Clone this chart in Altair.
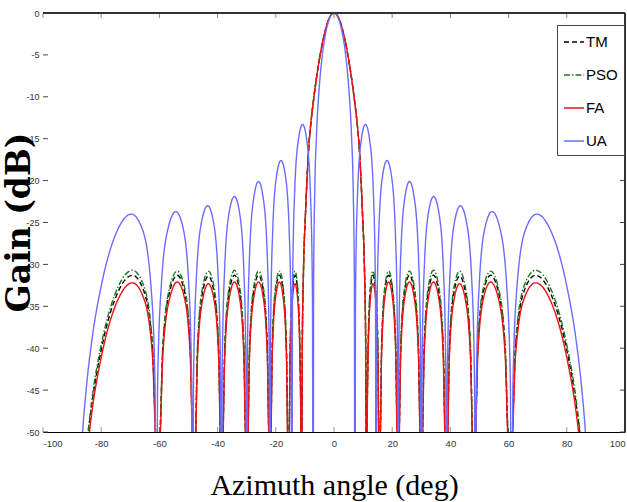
import altair as alt
import pandas as pd

# ---------------- data ----------------
series_names = ["TM", "PSO", "FA", "UA"]
series_colors = ["#000000", "#1a7a1a", "#f01010", "#6b6bff"]
series_dashes = [[5, 3], [6, 2, 1.5, 2], [1, 0], [1, 0]]
series_widths = [1.4, 1.4, 2.2, 0.9]

x_ticks = [-100, -80, -60, -40, -20, 0, 20, 40, 60, 80, 100]
y_ticks = [0, -5, -10, -15, -20, -25, -30, -35, -40, -45, -50]

# azimuth samples shared by the three optimised patterns (TM, PSO, FA)
opt_x = [
    -84.94, -82.84, -79.87, -73.96, -69.27, -65.41, -62.38, -60.96,
    -60.07, -58.81, -56.37, -53.84, -51.45, -49.42, -48.43,
    -47.79, -46.88, -45.09, -43.17, -41.30, -39.66, -38.87,
    -38.33, -37.52, -35.93, -34.19, -32.50, -30.99, -30.24,
    -29.75, -29.01, -27.54, -25.93, -24.34, -22.93, -22.24,
    -21.80, -21.22, -20.05, -18.77, -17.49, -16.36, -15.79,
    -15.47, -15.07, -14.27, -13.39, -12.51, -11.73, -11.33,
    -11.2, -10.9, -10.5, -9.8, -9.2, -8.5, -8.0, -7.0, -6.0, -5.0, -4.0, -3.0, -2.0, -1.0,
    0.0,
    1.0, 2.0, 3.0, 4.0, 5.0, 6.0, 7.0, 8.0, 8.5, 9.2, 9.8, 10.5, 10.9, 11.2,
    11.33, 11.73, 12.51, 13.39, 14.27, 15.07, 15.47,
    15.79, 16.36, 17.49, 18.77, 20.05, 21.22, 21.80,
    22.24, 22.93, 24.34, 25.93, 27.54, 29.01, 29.75,
    30.24, 30.99, 32.50, 34.19, 35.93, 37.52, 38.33,
    38.87, 39.66, 41.30, 43.17, 45.09, 46.88, 47.79,
    48.43, 49.42, 51.45, 53.84, 56.37, 58.81, 60.07,
    60.96, 62.38, 65.41, 69.27, 73.96, 79.87, 82.84, 84.94,
]

fa_y = [
    -52.7, -46.7, -40.9, -34.0, -32.2, -34.0, -40.9, -52.7,
    -52.6, -40.8, -33.9, -32.1, -33.9, -40.8, -52.6,
    -52.8, -41.0, -34.1, -32.3, -34.1, -41.0, -52.8,
    -52.6, -40.8, -33.9, -32.1, -33.9, -40.8, -52.6,
    -52.6, -40.8, -33.9, -32.1, -33.9, -40.8, -52.6,
    -52.6, -40.8, -33.9, -32.1, -33.9, -40.8, -52.6,
    -52.8, -41.0, -34.1, -32.3, -34.1, -41.0, -52.8,
    -80.0, -40.0, -31.0, -24.0, -19.3, -15.2, -13.3, -10.3, -7.7, -5.5, -3.6, -2.1, -0.93, -0.23,
    0.0,
    -0.23, -0.93, -2.1, -3.6, -5.5, -7.7, -10.3, -13.3, -15.2, -19.3, -24.0, -31.0, -40.0, -80.0,
    -52.8, -41.0, -34.1, -32.3, -34.1, -41.0, -52.8,
    -52.6, -40.8, -33.9, -32.1, -33.9, -40.8, -52.6,
    -52.6, -40.8, -33.9, -32.1, -33.9, -40.8, -52.6,
    -52.6, -40.8, -33.9, -32.1, -33.9, -40.8, -52.6,
    -52.8, -41.0, -34.1, -32.3, -34.1, -41.0, -52.8,
    -52.6, -40.8, -33.9, -32.1, -33.9, -40.8, -52.6,
    -52.7, -40.9, -34.0, -32.2, -34.0, -40.9, -46.7, -52.7,
]

tm_y = [
    -51.8, -45.8, -40.0, -33.1, -31.3, -33.1, -40.0, -51.8,
    -51.8, -40.0, -33.1, -31.3, -33.1, -40.0, -51.8,
    -51.9, -40.1, -33.2, -31.4, -33.2, -40.1, -51.9,
    -51.8, -40.0, -33.1, -31.3, -33.1, -40.0, -51.8,
    -51.8, -40.0, -33.1, -31.3, -33.1, -40.0, -51.8,
    -51.8, -40.0, -33.1, -31.3, -33.1, -40.0, -51.8,
    -51.8, -40.0, -33.1, -31.3, -33.1, -40.0, -51.8,
    -80.0, -40.0, -31.0, -24.0, -19.3, -15.2, -13.3, -10.3, -7.7, -5.5, -3.6, -2.1, -0.93, -0.23,
    0.0,
    -0.23, -0.93, -2.1, -3.6, -5.5, -7.7, -10.3, -13.3, -15.2, -19.3, -24.0, -31.0, -40.0, -80.0,
    -51.8, -40.0, -33.1, -31.3, -33.1, -40.0, -51.8,
    -51.8, -40.0, -33.1, -31.3, -33.1, -40.0, -51.8,
    -51.8, -40.0, -33.1, -31.3, -33.1, -40.0, -51.8,
    -51.8, -40.0, -33.1, -31.3, -33.1, -40.0, -51.8,
    -51.9, -40.1, -33.2, -31.4, -33.2, -40.1, -51.9,
    -51.8, -40.0, -33.1, -31.3, -33.1, -40.0, -51.8,
    -51.8, -40.0, -33.1, -31.3, -33.1, -40.0, -45.8, -51.8,
]

pso_y = [
    -51.2, -45.2, -39.4, -32.5, -30.7, -32.5, -39.4, -51.2,
    -51.3, -39.5, -32.6, -30.8, -32.6, -39.5, -51.3,
    -51.3, -39.5, -32.6, -30.8, -32.6, -39.5, -51.3,
    -51.2, -39.4, -32.5, -30.7, -32.5, -39.4, -51.2,
    -51.3, -39.5, -32.6, -30.8, -32.6, -39.5, -51.3,
    -51.3, -39.5, -32.6, -30.8, -32.6, -39.5, -51.3,
    -51.3, -39.5, -32.6, -30.8, -32.6, -39.5, -51.3,
    -80.0, -40.0, -31.0, -24.0, -19.3, -15.2, -13.3, -10.3, -7.7, -5.5, -3.6, -2.1, -0.93, -0.23,
    0.0,
    -0.23, -0.93, -2.1, -3.6, -5.5, -7.7, -10.3, -13.3, -15.2, -19.3, -24.0, -31.0, -40.0, -80.0,
    -51.3, -39.5, -32.6, -30.8, -32.6, -39.5, -51.3,
    -51.3, -39.5, -32.6, -30.8, -32.6, -39.5, -51.3,
    -51.3, -39.5, -32.6, -30.8, -32.6, -39.5, -51.3,
    -51.2, -39.4, -32.5, -30.7, -32.5, -39.4, -51.2,
    -51.3, -39.5, -32.6, -30.8, -32.6, -39.5, -51.3,
    -51.3, -39.5, -32.6, -30.8, -32.6, -39.5, -51.3,
    -51.2, -39.4, -32.5, -30.7, -32.5, -39.4, -45.2, -51.2,
]

ua_x = [
    -90.0, -86.49, -85.04, -82.98, -80.06, -74.26, -69.64, -65.86, -62.87, -61.49,
    -61.04, -60.61, -59.32, -56.88, -54.34, -51.96, -49.91, -48.92,
    -48.59, -48.27, -47.31, -45.44, -43.43, -41.49, -39.79, -38.96,
    -38.68, -38.41, -37.59, -35.98, -34.23, -32.52, -31.00, -30.25,
    -30.0, -29.75, -29.01, -27.55, -25.95, -24.36, -22.95, -22.26,
    -22.02, -21.79, -21.10, -19.73, -18.21, -16.71, -15.37, -14.70,
    -14.48, -14.26, -13.59, -12.27, -10.81, -9.35, -8.05, -7.40,
    -7.18, -7.0, -6.6, -6.0, -5.0, -4.0, -3.0, -2.0, -1.0,
    0.0,
    1.0, 2.0, 3.0, 4.0, 5.0, 6.0, 6.6, 7.0, 7.18,
    7.40, 8.05, 9.35, 10.81, 12.27, 13.59, 14.26, 14.48,
    14.70, 15.37, 16.71, 18.21, 19.73, 21.10, 21.79, 22.02,
    22.26, 22.95, 24.36, 25.95, 27.55, 29.01, 29.75, 30.0,
    30.25, 31.00, 32.52, 34.23, 35.98, 37.59, 38.41, 38.68,
    38.96, 39.79, 41.49, 43.43, 45.44, 47.31, 48.27, 48.59,
    48.92, 49.91, 51.96, 54.34, 56.88, 59.32, 60.61, 61.04,
    61.49, 62.87, 65.86, 69.64, 74.26, 80.06, 82.98, 85.04, 86.49, 90.0,
]

ua_y = [
    -80.0, -50.5, -44.5, -38.5, -32.7, -25.8, -24.0, -25.8, -32.7, -44.5,
    -80.0, -44.2, -32.4, -25.5, -23.7, -25.5, -32.4, -44.2,
    -80.0, -43.5, -31.7, -24.8, -23.0, -24.8, -31.7, -43.5,
    -80.0, -42.4, -30.6, -23.7, -21.9, -23.7, -30.6, -42.4,
    -80.0, -40.6, -28.8, -22.0, -20.1, -22.0, -28.8, -40.6,
    -80.0, -38.1, -26.3, -19.4, -17.6, -19.4, -26.3, -38.1,
    -80.0, -33.8, -22.0, -15.2, -13.3, -15.2, -22.0, -33.8,
    -80.0, -31.8, -21.1, -14.5, -8.6, -5.0, -2.66, -1.13, -0.28,
    0.0,
    -0.28, -1.13, -2.66, -5.0, -8.6, -14.5, -21.1, -31.8, -80.0,
    -33.8, -22.0, -15.2, -13.3, -15.2, -22.0, -33.8, -80.0,
    -38.1, -26.3, -19.4, -17.6, -19.4, -26.3, -38.1, -80.0,
    -40.6, -28.8, -22.0, -20.1, -22.0, -28.8, -40.6, -80.0,
    -42.4, -30.6, -23.7, -21.9, -23.7, -30.6, -42.4, -80.0,
    -43.5, -31.7, -24.8, -23.0, -24.8, -31.7, -43.5, -80.0,
    -44.2, -32.4, -25.5, -23.7, -25.5, -32.4, -44.2, -80.0,
    -44.5, -32.7, -25.8, -24.0, -25.8, -32.7, -38.5, -44.5, -50.5, -80.0,
]

# ---------------- table ----------------
frames = []
for name, xs, ys in [("TM", opt_x, tm_y), ("PSO", opt_x, pso_y),
                     ("FA", opt_x, fa_y), ("UA", ua_x, ua_y)]:
    frames.append(pd.DataFrame({"series": name, "angle": xs, "gain": ys}))
df = pd.concat(frames, ignore_index=True)

W, H = 582, 419
xscale = alt.Scale(domain=[-100, 100], nice=False, zero=False)
yscale = alt.Scale(domain=[-50, 0], nice=False, zero=False)

LABEL_FONT = "Liberation Sans"

x_axis = alt.Axis(values=x_ticks, labelExpr="toString(datum.value)",
                  tickSize=0, grid=False, domainColor="#000000",
                  domainWidth=1, labelPadding=6, labelFontSize=9.5,
                  labelColor="#333333", labelFont=LABEL_FONT,
                  title="Azimuth angle (deg)", titleFont="Liberation Serif",
                  titleFontSize=30, titleFontWeight="normal",
                  titleColor="#000000", titleX=291, titleY=62,
                  titleAlign="center", titleBaseline="alphabetic")
y_axis = alt.Axis(values=y_ticks, labelExpr="toString(datum.value)",
                  tickSize=0, grid=False, domain=False, labelPadding=4,
                  labelFontSize=9, labelColor="#333333", labelFont=LABEL_FONT,
                  title="Gain (dB)", titleFont="DejaVu Serif",
                  titleFontSize=33, titleFontWeight="bold",
                  titleColor="#000000", titleX=-14, titleY=209,
                  titleAngle=270, titleAlign="center",
                  titleBaseline="alphabetic")

lines = alt.Chart(df).mark_line(interpolate="monotone", clip=True).encode(
    x=alt.X("angle:Q", scale=xscale, axis=x_axis),
    y=alt.Y("gain:Q", scale=yscale, axis=y_axis),
    color=alt.Color("series:N", sort=series_names,
                    scale=alt.Scale(domain=series_names, range=series_colors)),
    strokeDash=alt.StrokeDash("series:N", sort=series_names,
                              scale=alt.Scale(domain=series_names, range=series_dashes)),
    strokeWidth=alt.StrokeWidth("series:N", sort=series_names,
                                scale=alt.Scale(domain=series_names, range=series_widths)),
)

xt = pd.DataFrame({"v": x_ticks})
yt = pd.DataFrame({"v": y_ticks})

xtick_bottom = alt.Chart(xt).mark_rule(color="#9a9a9a", strokeWidth=1).encode(
    x=alt.X("v:Q", scale=xscale, axis=x_axis), y=alt.value(H - 5), y2=alt.value(H))
xtick_top = alt.Chart(xt).mark_rule(color="#8a8a8a", strokeWidth=1).encode(
    x=alt.X("v:Q", scale=xscale, axis=x_axis), y=alt.value(0), y2=alt.value(5))
ytick_left = alt.Chart(yt).mark_rule(color="#444444", strokeWidth=1).encode(
    y=alt.Y("v:Q", scale=yscale, axis=y_axis), x=alt.value(0), x2=alt.value(5))
ytick_right = alt.Chart(yt).mark_rule(color="#444444", strokeWidth=1).encode(
    y=alt.Y("v:Q", scale=yscale, axis=y_axis), x=alt.value(W - 5), x2=alt.value(W))

top_line = alt.Chart(xt).mark_rule(color="#333333", strokeWidth=1).encode(
    x=alt.value(0), x2=alt.value(W), y=alt.value(0))
right_line = alt.Chart(xt).mark_rule(color="#333333", strokeWidth=1).encode(
    x=alt.value(W), y=alt.value(0), y2=alt.value(H))

chart = alt.layer(
    xtick_bottom, xtick_top, ytick_left, ytick_right, lines, top_line, right_line
).properties(
    width=W, height=H,
    padding={"left": 43, "top": 13, "right": 2, "bottom": 70},
    autosize=alt.AutoSizeParams(type="none"),
).configure_view(
    stroke=None
).configure_legend(
    orient="none", legendX=514, legendY=12, title=None,
    strokeColor="#444444", fillColor="#ffffff", padding=6,
    symbolType="stroke", symbolSize=400, labelFont=LABEL_FONT,
    labelFontSize=15, labelColor="#000000", labelOffset=1,
    rowPadding=14, symbolOffset=0,
)

chart.save("out.html", embed_options={"renderer": "svg", "actions": False})
